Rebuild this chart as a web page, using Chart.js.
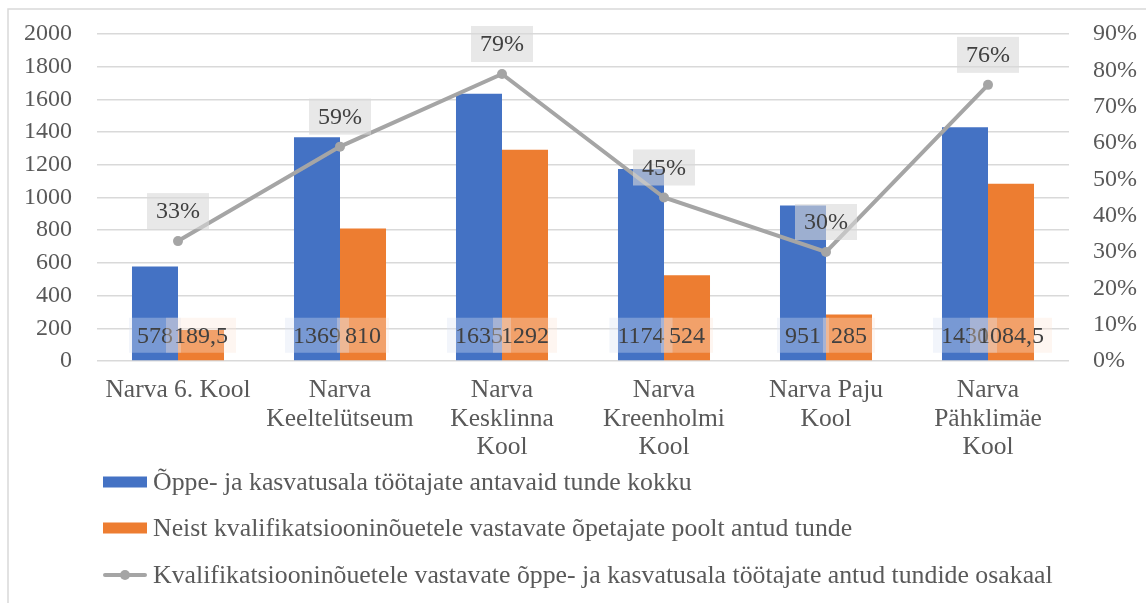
<!DOCTYPE html>
<html>
<head>
<meta charset="utf-8">
<script src="https://cdn.jsdelivr.net/npm/chart.js@4.4.1/dist/chart.umd.min.js"></script>
<style>
  html, body { margin: 0; padding: 0; background: #ffffff; }
  #wrap { width: 1146px; height: 603px; position: relative; }
</style>
</head>
<body>
<div id="wrap"><canvas id="c" width="1146" height="603"></canvas></div>
<script>
const categories = [
  ["Narva 6. Kool"],
  ["Narva", "Keeltelütseum"],
  ["Narva", "Kesklinna", "Kool"],
  ["Narva", "Kreenholmi", "Kool"],
  ["Narva Paju", "Kool"],
  ["Narva", "Pähklimäe", "Kool"]
];
const totalHours = [578, 1369, 1635, 1174, 951, 1430];
const qualifiedHours = [189.5, 810, 1292, 524, 285, 1084.5];
const sharePercent = [33, 59, 79, 45, 30, 76];
const seriesNames = [
  "Õppe- ja kasvatusala töötajate antavaid tunde kokku",
  "Neist kvalifikatsiooninõuetele vastavate õpetajate poolt antud tunde",
  "Kvalifikatsiooninõuetele vastavate õppe- ja kasvatusala töötajate antud tundide osakaal"
];
const leftTicks = [0, 200, 400, 600, 800, 1000, 1200, 1400, 1600, 1800, 2000];
const rightTicks = [0, 10, 20, 30, 40, 50, 60, 70, 80, 90];

const FONT = '"Liberation Serif", "Times New Roman", serif';
const BLUE = '#4472C4', ORANGE = '#ED7D31', GRAY = '#A5A5A5';

const fmt = v => String(v).replace('.', ',');

const decorPlugin = {
  id: 'decor',
  beforeDraw(chart) {
    const ctx = chart.ctx;
    ctx.save();
    ctx.strokeStyle = '#d9d9d9';
    ctx.lineWidth = 1.5;
    ctx.strokeRect(8, 9, 1200, 700);
    ctx.restore();
  },
  afterDatasetsDraw(chart) {
    const ctx = chart.ctx;
    ctx.save();
    ctx.font = '24px ' + FONT;
    ctx.textAlign = 'center';
    ctx.textBaseline = 'middle';
    const barFills = ['rgba(218,227,243,0.35)', 'rgba(251,229,214,0.35)'];
    [0, 1].forEach(di => {
      const meta = chart.getDatasetMeta(di);
      const data = chart.data.datasets[di].data;
      meta.data.forEach((el, i) => {
        const txt = fmt(data[i]);
        const w = ctx.measureText(txt).width + 16;
        const cy = el.base - 25;
        ctx.fillStyle = barFills[di];
        ctx.fillRect(el.x - w / 2, cy - 17.5, w, 35);
        ctx.fillStyle = '#404040';
        ctx.fillText(txt, el.x, cy + 1);
      });
    });
    const lmeta = chart.getDatasetMeta(2);
    lmeta.data.forEach((el, i) => {
      const txt = sharePercent[i] + '%';
      const w = ctx.measureText(txt).width + 18;
      const bottom = el.y - 12;
      ctx.fillStyle = 'rgba(217,217,217,0.6)';
      ctx.fillRect(el.x - w / 2, bottom - 36, w, 36);
      ctx.fillStyle = '#404040';
      ctx.fillText(txt, el.x, bottom - 18 + 1);
    });
    ctx.restore();
  },
  afterDraw(chart) {
    const ctx = chart.ctx;
    ctx.save();
    ctx.font = '25.8px ' + FONT;
    ctx.textAlign = 'left';
    ctx.textBaseline = 'middle';
    const rows = [482, 528, 575];
    const x0 = 103, bw = 44;
    chart.data.datasets.forEach((ds, i) => {
      const y = rows[i];
      if (ds.type === 'line') {
        ctx.strokeStyle = GRAY;
        ctx.lineWidth = 4;
        ctx.lineCap = 'round';
        ctx.beginPath();
        ctx.moveTo(x0 + 2, y);
        ctx.lineTo(x0 + bw - 2, y);
        ctx.stroke();
        ctx.fillStyle = GRAY;
        ctx.beginPath();
        ctx.arc(x0 + bw / 2, y, 5, 0, Math.PI * 2);
        ctx.fill();
      } else {
        ctx.fillStyle = ds.backgroundColor;
        ctx.fillRect(x0, y - 5.5, bw, 11);
      }
      ctx.fillStyle = '#595959';
      ctx.fillText(ds.label, x0 + bw + 6, y + 1);
    });
    ctx.restore();
  }
};

new Chart(document.getElementById('c'), {
  data: {
    labels: categories,
    datasets: [
      {
        type: 'bar', label: seriesNames[0], data: totalHours,
        backgroundColor: BLUE, yAxisID: 'y', order: 2,
        categoryPercentage: 0.568, barPercentage: 1.0
      },
      {
        type: 'bar', label: seriesNames[1], data: qualifiedHours,
        backgroundColor: ORANGE, yAxisID: 'y', order: 3,
        categoryPercentage: 0.568, barPercentage: 1.0
      },
      {
        type: 'line', label: seriesNames[2], data: sharePercent,
        borderColor: GRAY, backgroundColor: GRAY, borderWidth: 4,
        pointRadius: 5, pointBackgroundColor: GRAY, pointBorderWidth: 0,
        yAxisID: 'y1', order: 1, tension: 0
      }
    ]
  },
  options: {
    responsive: false,
    animation: false,
    events: [],
    layout: { padding: { top: 34, left: 0, right: 0, bottom: 0 } },
    plugins: { legend: { display: false }, tooltip: { enabled: false } },
    scales: {
      x: {
        grid: { display: false, drawTicks: false },
        border: { display: false },
        ticks: {
          color: '#595959', padding: 15, maxRotation: 0, autoSkip: false,
          font: { family: FONT, size: 25.5, lineHeight: 1.12 }
        },
        afterFit(s) { s.height = 242; s.paddingLeft = 0; s.paddingRight = 0; }
      },
      y: {
        position: 'left', min: 0, max: 2000,
        afterBuildTicks(s) { s.ticks = leftTicks.map(v => ({ value: v })); },
        grid: { color: '#d9d9d9', lineWidth: 1.5, drawTicks: false },
        border: { display: false },
        ticks: { color: '#595959', padding: 25, font: { family: FONT, size: 24 }, callback: v => String(v) },
        afterFit(s) { s.width = 97; s.paddingTop = 0; s.paddingBottom = 0; }
      },
      y1: {
        position: 'right', min: 0, max: 90,
        afterBuildTicks(s) { s.ticks = rightTicks.map(v => ({ value: v })); },
        grid: { display: false, drawTicks: false },
        border: { display: false },
        ticks: {
          color: '#595959', padding: 24, font: { family: FONT, size: 24 },
          callback: v => v + '%'
        },
        afterFit(s) { s.width = 77; s.paddingTop = 0; s.paddingBottom = 0; }
      }
    }
  },
  plugins: [decorPlugin]
});
</script>
</body>
</html>
